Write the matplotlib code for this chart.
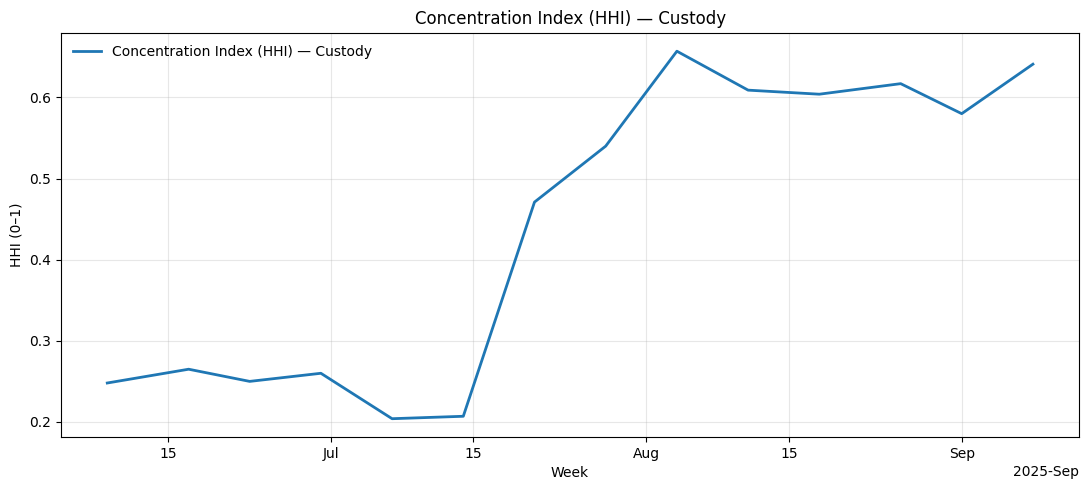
import matplotlib
matplotlib.use("Agg")
import matplotlib.pyplot as plt
import matplotlib.dates as mdates
import numpy as np

weeks = np.array([
    "2025-06-09", "2025-06-17", "2025-06-23", "2025-06-30", "2025-07-07",
    "2025-07-14", "2025-07-21", "2025-07-28", "2025-08-04", "2025-08-11",
    "2025-08-18", "2025-08-26", "2025-09-01", "2025-09-08",
], dtype="datetime64[D]")
hhi = [0.248, 0.265, 0.250, 0.260, 0.204, 0.207, 0.471,
       0.540, 0.657, 0.609, 0.604, 0.617, 0.580, 0.641]

label = "Concentration Index (HHI) \u2014 Custody"

fig, ax = plt.subplots(figsize=(10.89, 4.9), dpi=100)
ax.plot(weeks, hhi, color="#1f77b4", linewidth=2, label=label)

locator = mdates.AutoDateLocator()
ax.xaxis.set_major_locator(locator)
ax.xaxis.set_major_formatter(mdates.ConciseDateFormatter(locator))

ax.set_title(label)
ax.set_xlabel("Week")
ax.set_ylabel("HHI (0\u20131)")
ax.grid(True, alpha=0.3)
ax.legend(loc="upper left", frameon=False)

fig.subplots_adjust(left=0.056, right=0.991, top=0.933, bottom=0.108)
plt.savefig("out.png", dpi=100)
